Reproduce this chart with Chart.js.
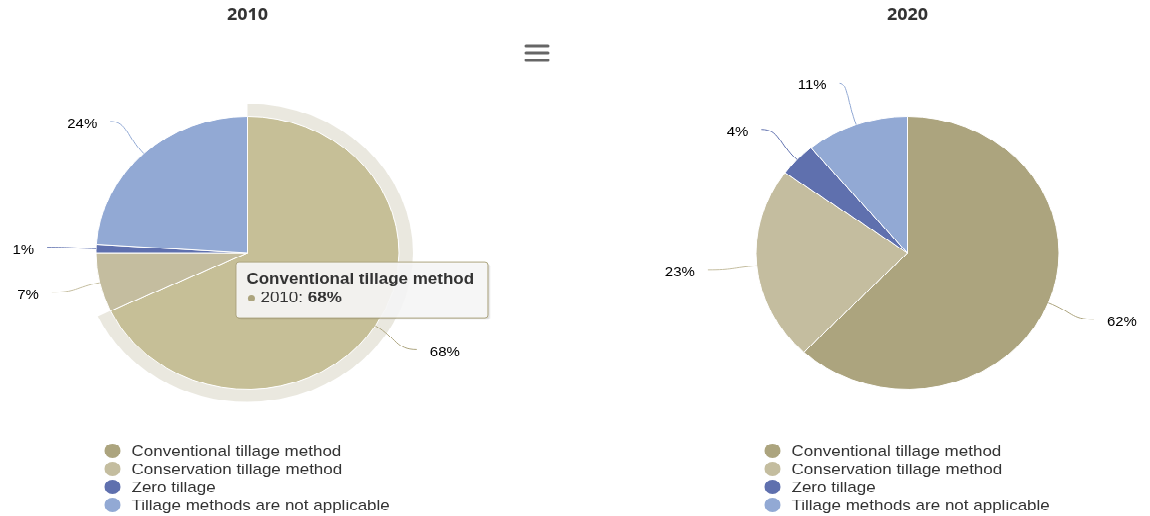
<!DOCTYPE html>
<html>
<head>
<meta charset="utf-8">
<script src="https://cdn.jsdelivr.net/npm/chart.js@4.4.1/dist/chart.umd.min.js"></script>
<style>
    html, body { margin: 0; padding: 0; background: #fff; overflow: hidden; }
    #page {
        position: relative;
        width: 1150px;
        height: 573px;
        transform: scale(1, 0.9);
        transform-origin: 0 0;
    }
    canvas { position: absolute; top: 0; }
    #c2010 { left: 0; }
    #c2020 { left: 575px; }
</style>
</head>
<body>
<div id="page">
    <canvas id="c2010" width="575" height="573"></canvas>
    <canvas id="c2020" width="575" height="573"></canvas>
</div>
<script>
// ------------------------
// DATA
// ------------------------

const categories = [
    "Conventional tillage method",
    "Conservation tillage method",
    "Zero tillage",
    "Tillage methods are not applicable"
];
const years = ["2010", "2020"];
const values2010 = [68, 7, 1, 24];
const values2020 = [62, 23, 4, 11];

// hovered point in the 2010 pie (tooltip + halo)
const hoveredIndex = 0;

const colors = ["#aca47e", "#c4bd9f", "#5f70ae", "#92a9d4"];
const hoverColor = "#c6bf97";

const FONT = "'Liberation Sans', Arial, sans-serif";

// ------------------------
// PLUGINS
// ------------------------

const titlePlugin = {
    id: "pieTitle",
    afterDraw(chart, args, opts) {
        const ctx = chart.ctx;
        const area = chart.chartArea;
        ctx.save();
        ctx.font = "bold 18px 'Open Sans', sans-serif";
        ctx.fillStyle = "#333333";
        ctx.textAlign = "center";
        ctx.textBaseline = "middle";
        ctx.fillText(opts.text, (area.left + area.right) / 2, 17);
        ctx.restore();
    }
};

const legendPlugin = {
    id: "listLegend",
    afterDraw(chart) {
        const ctx = chart.ctx;
        const area = chart.chartArea;
        const cx = (area.left + area.right) / 2;
        ctx.save();
        ctx.font = "17px " + FONT;
        ctx.textBaseline = "middle";
        ctx.textAlign = "left";
        chart.data.labels.forEach((label, i) => {
            const y = 501 + i * 20;
            ctx.fillStyle = colors[i];
            ctx.beginPath();
            ctx.arc(cx - 135, y, 8, 0, Math.PI * 2);
            ctx.fill();
            ctx.fillStyle = "#333333";
            ctx.fillText(label, cx - 116, y + 1);
        });
        ctx.restore();
    }
};

// labels with soft curved connectors from the slice edge
const sliceLabelPlugin = {
    id: "sliceLabels",
    afterDatasetsDraw(chart) {
        const ctx = chart.ctx;
        const meta = chart.getDatasetMeta(0);
        const ds = chart.data.datasets[0];
        ctx.save();
        ctx.font = "15px " + FONT;
        ctx.textBaseline = "middle";
        meta.data.forEach((arc, i) => {
            const p = arc.getProps(["x", "y", "startAngle", "endAngle", "outerRadius"], true);
            const mid = (p.startAngle + p.endAngle) / 2;
            const cos = Math.cos(mid), sin = Math.sin(mid);
            const r = p.outerRadius;
            const at = d => ({ x: p.x + cos * (r + d), y: p.y + sin * (r + d) });
            const touch = at(0);
            const ctrl = at(25);
            const end = at(49);
            const side = cos >= 0 ? 1 : -1;
            const dx = Math.abs(end.x - touch.x);

            ctx.strokeStyle = colors[i];
            ctx.lineWidth = 1;
            ctx.beginPath();
            ctx.moveTo(end.x, end.y);
            ctx.bezierCurveTo(
                end.x - side * dx * 0.5, end.y,
                ctrl.x, ctrl.y,
                touch.x, touch.y
            );
            ctx.stroke();

            ctx.fillStyle = "#000000";
            ctx.textAlign = side > 0 ? "left" : "right";
            ctx.fillText(ds.data[i] + "%", end.x + side * 13, end.y + 3);
        });
        ctx.restore();
    }
};

const haloPlugin = {
    id: "halo",
    beforeDatasetsDraw(chart, args, opts) {
        if (!opts.show) return;
        const arc = chart.getDatasetMeta(0).data[hoveredIndex];
        const p = arc.getProps(["x", "y", "startAngle", "endAngle", "outerRadius"], true);
        const ctx = chart.ctx;
        ctx.save();
        ctx.fillStyle = "rgba(172,164,126,0.25)";
        ctx.beginPath();
        ctx.arc(p.x, p.y, p.outerRadius + 14, p.startAngle, p.endAngle);
        ctx.arc(p.x, p.y, p.outerRadius, p.endAngle, p.startAngle, true);
        ctx.closePath();
        ctx.fill();
        ctx.restore();
    }
};

const tooltipPlugin = {
    id: "fixedTooltip",
    afterDraw(chart, args, opts) {
        if (!opts.show) return;
        const arc = chart.getDatasetMeta(0).data[hoveredIndex];
        const pos = arc.tooltipPosition(true);
        const ctx = chart.ctx;
        const bx = pos.x - 76, by = pos.y - 31, bw = 252, bh = 62;

        ctx.save();
        // shadow
        ctx.fillStyle = "rgba(0,0,0,0.08)";
        roundRect(ctx, bx + 2, by + 2, bw, bh, 3);
        ctx.fill();
        ctx.fillStyle = "rgba(0,0,0,0.06)";
        roundRect(ctx, bx + 3, by + 3, bw, bh, 3);
        ctx.fill();

        ctx.fillStyle = "rgba(247,247,247,0.92)";
        ctx.strokeStyle = colors[hoveredIndex];
        ctx.lineWidth = 1;
        roundRect(ctx, bx + 0.5, by + 0.5, bw, bh, 3);
        ctx.fill();
        ctx.stroke();

        ctx.textBaseline = "middle";
        ctx.textAlign = "left";
        ctx.fillStyle = "#333333";
        ctx.font = "bold 17px " + FONT;
        ctx.fillText(categories[hoveredIndex], bx + 11, by + 20);

        ctx.fillStyle = colors[hoveredIndex];
        ctx.beginPath();
        ctx.arc(bx + 16, by + 41, 3.5, 0, Math.PI * 2);
        ctx.fill();

        ctx.fillStyle = "#333333";
        ctx.font = "17px " + FONT;
        const lead = years[0] + ": ";
        ctx.fillText(lead, bx + 25, by + 41);
        const w = ctx.measureText(lead).width;
        ctx.font = "bold 17px " + FONT;
        ctx.fillText(values2010[hoveredIndex] + "%", bx + 25 + w, by + 41);
        ctx.restore();
    }
};

const menuPlugin = {
    id: "menuIcon",
    afterDraw(chart, args, opts) {
        if (!opts.show) return;
        const ctx = chart.ctx;
        ctx.save();
        ctx.strokeStyle = "#666666";
        ctx.lineWidth = 3;
        ctx.lineCap = "round";
        [51, 59, 67].forEach(y => {
            ctx.beginPath();
            ctx.moveTo(526, y);
            ctx.lineTo(548, y);
            ctx.stroke();
        });
        ctx.restore();
    }
};

function roundRect(ctx, x, y, w, h, r) {
    ctx.beginPath();
    ctx.moveTo(x + r, y);
    ctx.lineTo(x + w - r, y);
    ctx.arcTo(x + w, y, x + w, y + r, r);
    ctx.lineTo(x + w, y + h - r);
    ctx.arcTo(x + w, y + h, x + w - r, y + h, r);
    ctx.lineTo(x + r, y + h);
    ctx.arcTo(x, y + h, x, y + h - r, r);
    ctx.lineTo(x, y + r);
    ctx.arcTo(x, y, x + r, y, r);
    ctx.closePath();
}

// ------------------------
// CHARTS
// ------------------------

function createPie(canvasId, year, values, padding, hovered) {
    const bg = colors.slice();
    if (hovered) bg[hoveredIndex] = hoverColor;

    return new Chart(document.getElementById(canvasId), {
        type: "pie",
        data: {
            labels: categories,
            datasets: [{
                label: year,
                data: values,
                backgroundColor: bg,
                borderColor: "#ffffff",
                borderWidth: 1,
                hoverOffset: 0
            }]
        },
        options: {
            responsive: false,
            animation: false,
            events: [],
            layout: { padding },
            plugins: {
                legend: { display: false },
                tooltip: { enabled: false },
                pieTitle: { text: year },
                halo: { show: hovered },
                fixedTooltip: { show: hovered },
                menuIcon: { show: hovered }
            }
        },
        plugins: [haloPlugin, sliceLabelPlugin, titlePlugin, legendPlugin, tooltipPlugin, menuPlugin]
    });
}

createPie("c2010", years[0], values2010, { left: 95, right: 175, top: 129, bottom: 140 }, true);
createPie("c2020", years[1], values2020, { left: 180, right: 90, top: 129, bottom: 140 }, false);
</script>
</body>
</html>
